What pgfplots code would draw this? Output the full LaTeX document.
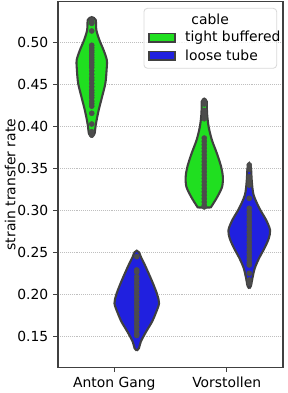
\documentclass[border=0pt]{standalone}
\usepackage{pgfplots}
\pgfplotsset{compat=1.18}
\usepackage{fontspec}
\setmainfont{DejaVu Sans}
\definecolor{vgreen}{RGB}{32,223,32}
\definecolor{vblue}{RGB}{32,32,223}
\definecolor{vedge}{RGB}{64,64,64}
\definecolor{vdot}{RGB}{76,76,76}
\begin{document}
\begin{tikzpicture}
\useasboundingbox (0,0) rectangle (206.64pt,282.96pt);
\begin{axis}[
  at={(41.76pt,18.5pt)}, anchor=south west,
  scale only axis, width=162pt, height=263.2pt,
  xmin=-0.5, xmax=1.5, ymin=0.1131, ymax=0.5483,
  xtick={0,1}, xticklabels={Anton Gang, Vorstollen},
  ytick={0.15,0.20,...,0.51},
  yticklabel style={/pgf/number format/.cd, fixed, fixed zerofill, precision=2},
  /pgf/number format/assume math mode=true,
  tick align=outside, xtick pos=bottom, ytick pos=left,
  major tick length=3.5pt,
  tick style={black!75, line width=0.8pt},
  axis line style={black!75, line width=0.8pt},
  ymajorgrids, major grid style={densely dotted, gray!50, line width=0.5pt},
  tick label style={font=\fontsize{10}{12}\selectfont},
  ylabel={strain transfer rate},
  ylabel style={font=\fontsize{10}{12}\selectfont},
  every axis y label/.style={at={(axis description cs:-0.213,0.5)}, rotate=90, anchor=center},
]
% Anton Gang, tight buffered
\addplot[fill=vgreen, draw=vedge, line width=1.5pt, smooth, tension=0.5] coordinates {
(-0.200,0.387) (-0.180,0.390) (-0.174,0.3917) (-0.162,0.4036) (-0.138,0.4194) (-0.108,0.4352) (-0.079,0.4512) (-0.068,0.467) (-0.066,0.4789) (-0.095,0.4908) (-0.132,0.5027) (-0.159,0.5146) (-0.164,0.5265) (-0.180,0.529) (-0.200,0.530)
(-0.220,0.529) (-0.236,0.5265) (-0.241,0.5146) (-0.268,0.5027) (-0.305,0.4908) (-0.334,0.4789) (-0.332,0.467) (-0.321,0.4512) (-0.292,0.4352) (-0.262,0.4194) (-0.238,0.4036) (-0.226,0.3917) (-0.220,0.390) (-0.200,0.387)
};
% Anton Gang, loose tube
\addplot[fill=vblue, draw=vedge, line width=1.5pt, smooth, tension=0.5] coordinates {
(0.200,0.133) (0.220,0.136) (0.236,0.1436) (0.283,0.1555) (0.336,0.1674) (0.374,0.1793) (0.398,0.1893) (0.383,0.1992) (0.350,0.2111) (0.312,0.2230) (0.272,0.2349) (0.236,0.2448) (0.220,0.250) (0.200,0.252)
(0.180,0.250) (0.164,0.2448) (0.128,0.2349) (0.088,0.2230) (0.050,0.2111) (0.017,0.1992) (0.002,0.1893) (0.026,0.1793) (0.064,0.1674) (0.117,0.1555) (0.164,0.1436) (0.180,0.136) (0.200,0.133)
};
% Vorstollen, tight buffered
\addplot[fill=vgreen, draw=vedge, line width=1.5pt, smooth, tension=0.5] coordinates {
(0.800,0.3035) (0.858,0.3035) (0.872,0.3063) (0.917,0.3162) (0.959,0.3281) (0.965,0.3400) (0.950,0.3519) (0.912,0.3679) (0.868,0.3837) (0.839,0.3995) (0.825,0.4155) (0.823,0.4293) (0.812,0.432) (0.800,0.433)
(0.788,0.432) (0.777,0.4293) (0.775,0.4155) (0.761,0.3995) (0.732,0.3837) (0.688,0.3679) (0.650,0.3519) (0.635,0.3400) (0.641,0.3281) (0.683,0.3162) (0.728,0.3063) (0.742,0.3035) (0.800,0.3035)
};
% Vorstollen, loose tube
\addplot[fill=vblue, draw=vedge, line width=1.5pt, smooth, tension=0.5] coordinates {
(1.200,0.207) (1.215,0.210) (1.228,0.2190) (1.249,0.2310) (1.287,0.2429) (1.335,0.2548) (1.374,0.2667) (1.385,0.2765) (1.350,0.2885) (1.290,0.3024) (1.239,0.3182) (1.223,0.3341) (1.216,0.3500) (1.208,0.354) (1.200,0.356)
(1.192,0.354) (1.184,0.3500) (1.177,0.3341) (1.161,0.3182) (1.110,0.3024) (1.050,0.2885) (1.015,0.2765) (1.026,0.2667) (1.065,0.2548) (1.113,0.2429) (1.151,0.2310) (1.172,0.2190) (1.185,0.210) (1.200,0.207)
};
% observations
\addplot[only marks, mark=*, mark size=1.8pt, color=vdot] coordinates {
(-0.2,0.5265) (-0.2,0.5250) (-0.2,0.5235) (-0.2,0.5225) (-0.2,0.5135) (-0.2,0.4965) (-0.2,0.4935) (-0.2,0.4905) (-0.2,0.4880) (-0.2,0.4850) (-0.2,0.4820) (-0.2,0.4790) (-0.2,0.4760) (-0.2,0.4730) (-0.2,0.4700) (-0.2,0.4660) (-0.2,0.4620) (-0.2,0.4580) (-0.2,0.4550) (-0.2,0.4510) (-0.2,0.4470) (-0.2,0.4430) (-0.2,0.4400) (-0.2,0.4370) (-0.2,0.4340) (-0.2,0.4300) (-0.2,0.4270) (-0.2,0.4240) (-0.2,0.4155) (-0.2,0.4027) (-0.2,0.3936) (-0.2,0.3896)
(0.2,0.2448) (0.2,0.2290) (0.2,0.2265) (0.2,0.2210) (0.2,0.2170) (0.2,0.2130) (0.2,0.2090) (0.2,0.2050) (0.2,0.2010) (0.2,0.1970) (0.2,0.1930) (0.2,0.1890) (0.2,0.1850) (0.2,0.1810) (0.2,0.1770) (0.2,0.1730) (0.2,0.1690) (0.2,0.1650) (0.2,0.1610) (0.2,0.1570) (0.2,0.1530) (0.2,0.1510)
(0.8,0.4293) (0.8,0.4265) (0.8,0.4190) (0.8,0.4160) (0.8,0.4130) (0.8,0.4090) (0.8,0.3860) (0.8,0.3820) (0.8,0.3780) (0.8,0.3740) (0.8,0.3700) (0.8,0.3660) (0.8,0.3620) (0.8,0.3580) (0.8,0.3540) (0.8,0.3500) (0.8,0.3460) (0.8,0.3420) (0.8,0.3380) (0.8,0.3340) (0.8,0.3300) (0.8,0.3260) (0.8,0.3220) (0.8,0.3180) (0.8,0.3140) (0.8,0.3100) (0.8,0.3060) (0.8,0.3040)
(1.2,0.3540) (1.2,0.3490) (1.2,0.3400) (1.2,0.3360) (1.2,0.3320) (1.2,0.3300) (1.2,0.3143) (1.2,0.3024) (1.2,0.2980) (1.2,0.2940) (1.2,0.2900) (1.2,0.2860) (1.2,0.2820) (1.2,0.2780) (1.2,0.2740) (1.2,0.2700) (1.2,0.2660) (1.2,0.2620) (1.2,0.2580) (1.2,0.2540) (1.2,0.2500) (1.2,0.2460) (1.2,0.2420) (1.2,0.2380) (1.2,0.2349) (1.2,0.2250) (1.2,0.2170) (1.2,0.2130)
};
% legend
\draw[gray!30, fill=white, fill opacity=0.8, rounded corners=2.5pt, line width=0.6pt]
  (rel axis cs:0.382,0.982) rectangle (rel axis cs:0.972,0.818);
\node[font=\fontsize{10}{12}\selectfont] at (rel axis cs:0.676,0.953) {cable};
\draw[fill=vgreen, draw=vedge, line width=1.1pt] (rel axis cs:0.404,0.9136) rectangle (rel axis cs:0.520,0.8898);
\draw[fill=vblue, draw=vedge, line width=1.1pt] (rel axis cs:0.404,0.864) rectangle (rel axis cs:0.520,0.841);
\node[font=\fontsize{10}{12}\selectfont, anchor=west, inner xsep=0pt] at (rel axis cs:0.564,0.902) {tight buffered};
\node[font=\fontsize{10}{12}\selectfont, anchor=west, inner xsep=0pt] at (rel axis cs:0.564,0.853) {loose tube};
\end{axis}
\end{tikzpicture}
\end{document}
